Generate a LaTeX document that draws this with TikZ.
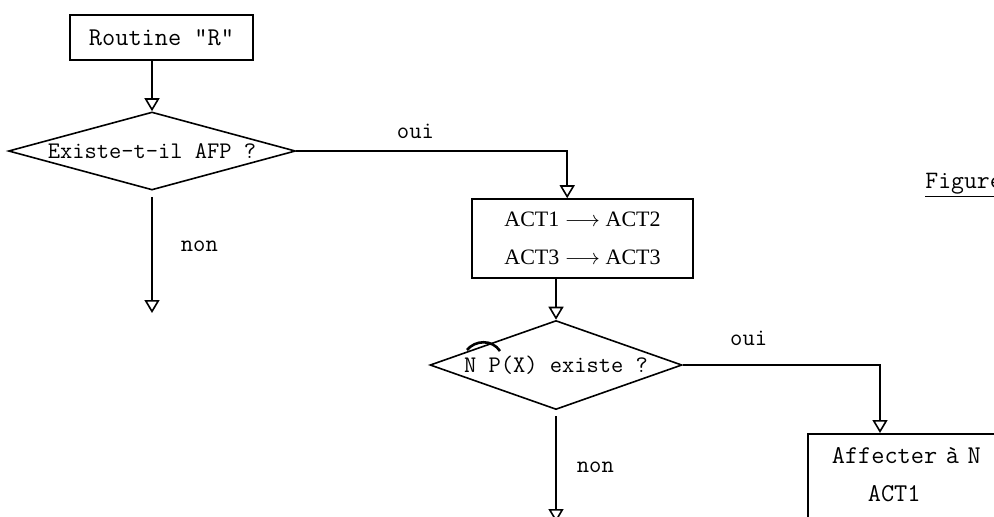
\documentclass[tikz,border=0pt]{standalone}
\usepackage{fontspec}
\newfontfamily\actfont{Liberation Serif}
\usetikzlibrary{shapes.geometric,arrows.meta}

\tikzset{
    flow/.style={line width=0.8pt, -{Triangle[open, length=6.5pt, width=7.5pt]}},
    box/.style={draw, line width=0.8pt, rectangle, inner sep=0pt},
    test/.style={draw, line width=0.8pt, diamond, inner sep=0pt, aspect=3.5},
    boxtxt/.style={font=\ttfamily\fontsize{12.8}{19}\selectfont},
    testtxt/.style={font=\ttfamily\fontsize{11.9}{14}\selectfont},
    lbl/.style={font=\ttfamily\fontsize{12}{14}\selectfont, inner sep=0pt}
}

\begin{document}
\begin{tikzpicture}[x=0.5pt, y=-0.5pt]

        \useasboundingbox (0,0) rectangle (994,516);
        \clip (0,0) rectangle (994,516);

        \node[box, boxtxt, minimum width=91.5pt, minimum height=22.5pt]
            (routine) at (161.5,37.5) {Routine "R"};

        \node[test, testtxt, minimum width=143.5pt, minimum height=39pt]
            (q1) at (152,151) {Existe-t-il AFP ?};

        \node[box, align=center, font=\actfont\fontsize{11}{19}\selectfont,
              minimum width=110.5pt, minimum height=39.5pt]
            (act) at (582.5,238.5) {ACT1 $\longrightarrow$ ACT2\\ACT3 $\longrightarrow$ ACT3};

        \node[test, testtxt, minimum width=126pt, minimum height=44.5pt]
            (q2) at (556,365) {N P(X) existe ?};

        \node[box, boxtxt, anchor=north west, align=left, text width=100pt,
              inner xsep=12pt, inner ysep=7pt]
            (affect) at (807,433) {Affecter à N\\\hspace*{18pt}ACT1\rule[-16pt]{0pt}{16pt}};

        \node[anchor=base west, inner sep=0pt, font=\ttfamily\fontsize{12.5}{14}\selectfont]
            (fig) at (925,188) {\underline{Figure}};

        \coordinate (end1) at (152,313);
        \coordinate (end2) at (556,522);

        \draw[flow]
            (routine.south -| q1.north) -- (q1.north);

        \draw[flow]
            (q1.east) -| node[lbl, above=6pt, pos=0.22] {oui} ([xshift=48pt]act.north west);

        \draw[flow, shorten <=3pt]
            (q1.south) -- node[lbl, right=14pt, pos=0.45] {non} (end1);

        \draw[flow]
            (act.south -| q2.north) -- (q2.north);

        \draw[flow]
            (q2.east) -| node[lbl, above=9.4pt, pos=0.167] {oui} ([xshift=36.5pt]affect.north west);

        \draw[flow, shorten <=3pt]
            (q2.south) -- node[lbl, right=10pt, pos=0.51] {non} (end2);

        \draw[line width=1.3pt]
            ([shift={(-89,-15)}]q2.center) .. controls +(8,-10) and +(-8,-12) .. ([shift={(-56,-14)}]q2.center);

\end{tikzpicture}
\end{document}
